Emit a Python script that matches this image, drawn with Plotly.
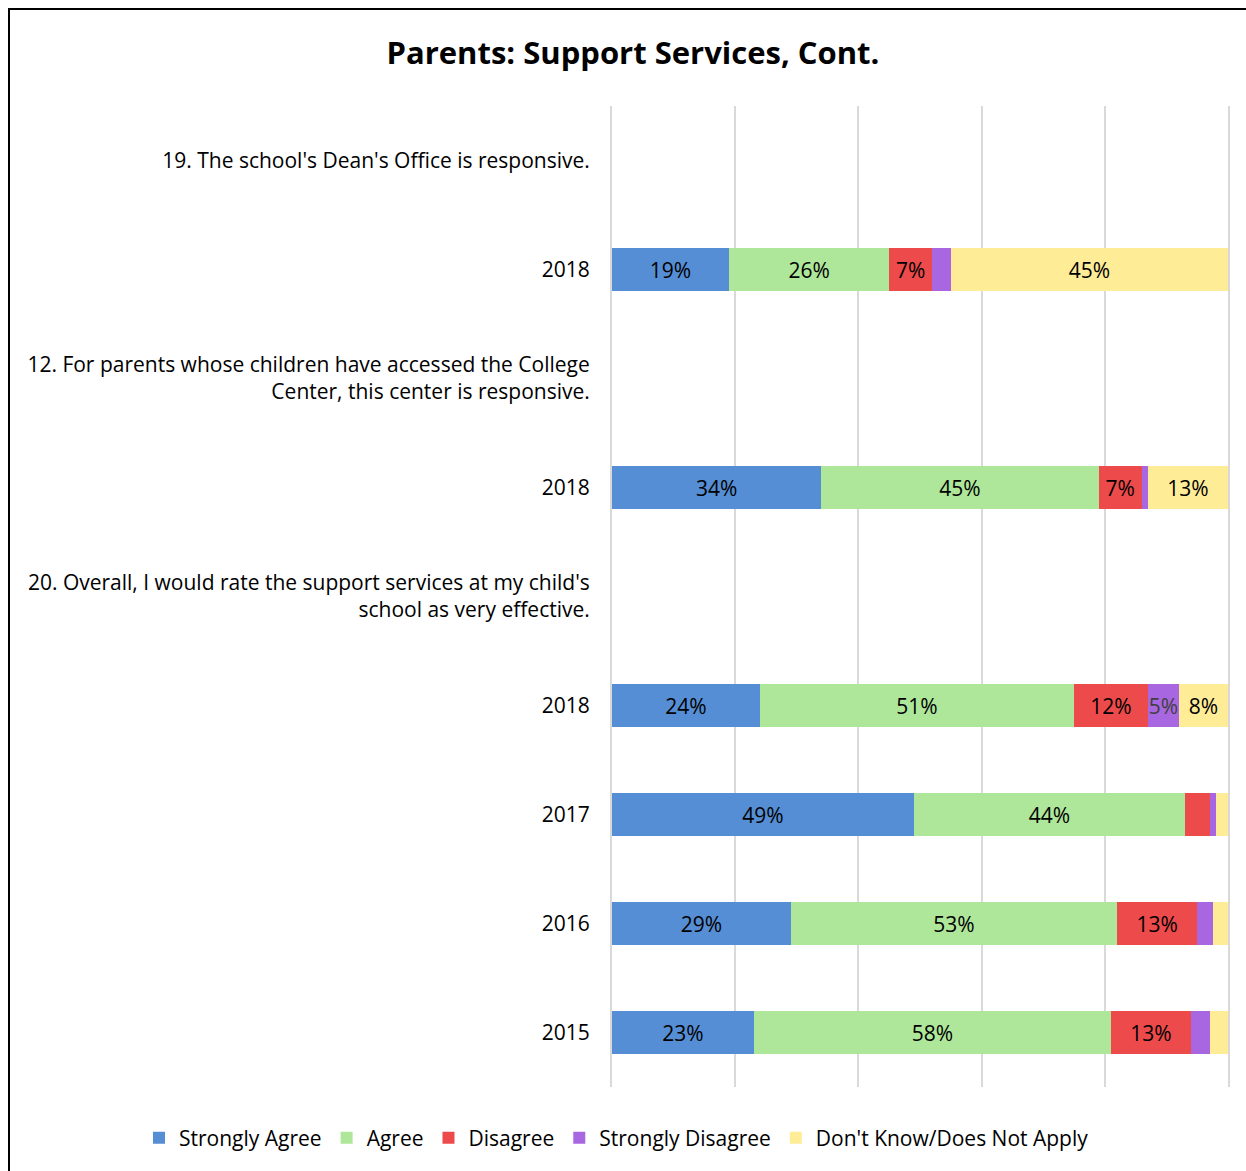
import plotly.graph_objects as go

# Row labels, top to bottom (question headers have no bar)
row_labels = [
    "19. The school's Dean's Office is responsive.",
    "2018",
    "12. For parents whose children have accessed the College<br>Center, this center is responsive.",
    "2018",
    "20. Overall, I would rate the support services at my child's<br>school as very effective.",
    "2018",
    "2017",
    "2016",
    "2015",
]
bar_rows = [1, 3, 5, 6, 7, 8]

# Percentages per response for each bar row
strongly_agree = [19, 34, 24, 49, 29, 23]
agree = [26, 45, 51, 44, 53, 58]
disagree = [7, 7, 12, 4, 13, 13]
strongly_disagree = [3, 1, 5, 1, 2.5, 3]
dont_know = [45, 13, 8, 2, 2.5, 3]

series = [
    ("Strongly Agree", strongly_agree, "#558ED5", "#000000"),
    ("Agree", agree, "#AEE79A", "#000000"),
    ("Disagree", disagree, "#EC4A4B", "#000000"),
    ("Strongly Disagree", strongly_disagree, "#A866E0", "#404040"),
    ("Don't Know/Does Not Apply", dont_know, "#FFEC97", "#000000"),
]

FONT = "'Open Sans', Lato, sans-serif"
W, H = 1246, 1171
L, R, T, B = 612, 18, 106, 84

fig = go.Figure()
for name, vals, color, tcolor in series:
    labels = [f"{round(v)}%" if v >= 5 else "" for v in vals]
    fig.add_trace(go.Bar(
        name=name,
        legendgroup=name,
        x=vals,
        y=bar_rows,
        orientation="h",
        marker=dict(color=color, line=dict(width=0)),
        text=labels,
        textposition="inside",
        insidetextanchor="middle",
        textangle=0,
        constraintext="none",
        textfont=dict(family=FONT, size=21, color=tcolor),
        hoverinfo="x+name",
    ))

# Pixel -> paper coordinate helpers
pw, ph = W - L - R, H - T - B
def px_x(px):
    return (px - L) / pw
def px_y(py):
    return (H - B - py) / ph

# Outer frame running off the right and bottom edges
fig.add_shape(type="rect", xref="paper", yref="paper",
              x0=px_x(9), x1=px_x(W + 20), y0=px_y(H + 20), y1=px_y(9),
              line=dict(color="#000000", width=2), fillcolor="rgba(0,0,0,0)",
              layer="above")

fig.update_layout(
    width=W, height=H,
    barmode="stack",
    bargap=0.6,
    plot_bgcolor="white",
    paper_bgcolor="white",
    margin=dict(l=L, r=R, t=T, b=B, autoexpand=False),
    title=dict(
        text="<b>Parents: Support Services, Cont.</b>",
        x=0.508, xanchor="center", xref="container",
        y=1 - 53 / H, yanchor="middle", yref="container",
        font=dict(family=FONT, size=31, color="#000000"),
    ),
    xaxis=dict(
        range=[0, 100], dtick=20, showticklabels=False,
        showgrid=True, gridcolor="#D9D9D9", gridwidth=2,
        zeroline=False, showline=False, fixedrange=True,
    ),
    yaxis=dict(
        range=[8.5, -0.5],
        tickmode="array",
        tickvals=list(range(len(row_labels))),
        ticktext=row_labels,
        ticks="", ticklabelstandoff=16,
        showgrid=False, zeroline=False,
        showline=True, mirror=True, linecolor="#D9D9D9", linewidth=2,
        layer="below traces",
        tickfont=dict(family=FONT, size=21, color="#000000"),
    ),
    legend=dict(
        orientation="h",
        xref="paper", yref="paper",
        x=px_x(139), xanchor="left",
        y=px_y(1138), yanchor="middle",
        font=dict(family=FONT, size=21, color="#000000"),
        traceorder="grouped",
        tracegroupgap=10,
        itemwidth=30,
    ),
    showlegend=True,
)

fig.write_html("out.html")
